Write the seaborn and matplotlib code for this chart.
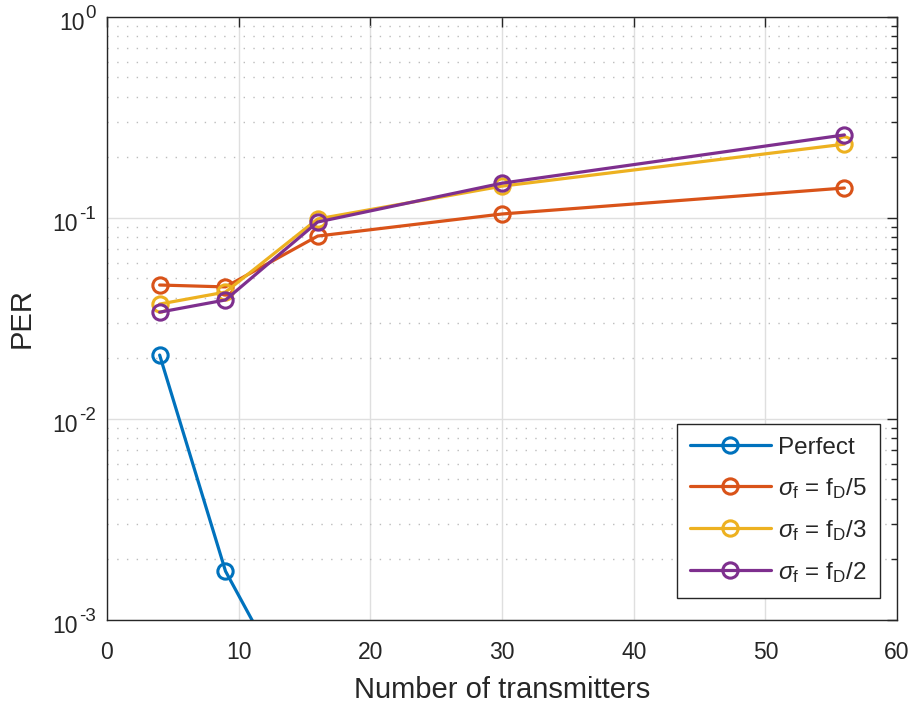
import numpy as np
import pandas as pd
import seaborn as sns
import matplotlib
matplotlib.use("Agg")
import matplotlib.pyplot as plt
import matplotlib.transforms as mtransforms
from matplotlib.ticker import LogLocator, MultipleLocator, NullFormatter

# Packet error rate versus number of transmitters
transmitters = [4, 9, 16, 30, 56]
per_perfect = [0.0208, 0.00175, 0.00025, np.nan, np.nan]
per_fd5 = [0.0464, 0.0454, 0.0813, 0.1047, 0.141]
per_fd3 = [0.0373, 0.0428, 0.0989, 0.144, 0.233]
per_fd2 = [0.0340, 0.0391, 0.0955, 0.149, 0.259]

labels = [
    "Perfect",
    r"$\sigma_\mathrm{f}$ = f$_\mathrm{D}$/5",
    r"$\sigma_\mathrm{f}$ = f$_\mathrm{D}$/3",
    r"$\sigma_\mathrm{f}$ = f$_\mathrm{D}$/2",
]
series = [per_perfect, per_fd5, per_fd3, per_fd2]
colors = ["#0072BD", "#D95319", "#EDB120", "#7E2F8E"]
decades = [-3, -2, -1, 0]

sns.set_theme(style="white")
plt.rcParams["font.family"] = ["Liberation Sans", "DejaVu Sans"]
plt.rcParams["mathtext.fontset"] = "custom"
plt.rcParams["mathtext.rm"] = "Liberation Sans"
plt.rcParams["mathtext.it"] = "Liberation Sans:italic"
plt.rcParams["mathtext.default"] = "it"

fig = plt.figure(figsize=(9.12, 7.05), dpi=100)
ax = fig.add_axes([0.1173, 0.1206, 0.8663, 0.8553])

for lab, vals, col in zip(labels, series, colors):
    df = pd.DataFrame({"n": transmitters, "per": vals}).dropna()
    sns.lineplot(data=df, x="n", y="per", ax=ax, color=col, label=lab,
                 marker="o", markersize=11, markerfacecolor="none",
                 markeredgecolor=col, markeredgewidth=2.2, linewidth=2.3,
                 sort=False, estimator=None)

ax.set_yscale("log")
ax.set_xlim(0, 60)
ax.set_ylim(1e-3, 1)
ax.xaxis.set_major_locator(MultipleLocator(10))
ax.yaxis.set_major_locator(LogLocator(base=10, numticks=10))
ax.yaxis.set_minor_locator(LogLocator(base=10, subs=np.arange(2, 10), numticks=20))
ax.yaxis.set_minor_formatter(NullFormatter())
ax.yaxis.set_major_formatter(NullFormatter())

# decade labels: exponent right-aligned near the axis, base "10" to its left
ytrans = mtransforms.blended_transform_factory(ax.transAxes, ax.transData)
renderer = fig.canvas.get_renderer()
for k in decades:
    exp_txt = ax.annotate(str(k) if k >= 0 else "-" + str(-k),
                          xy=(0, 10.0 ** k), xycoords=ytrans,
                          xytext=(-11, 3), textcoords="offset pixels",
                          ha="right", va="center", fontsize=13.5,
                          color="#262626")
    w = exp_txt.get_window_extent(renderer).width
    ax.annotate("10", xy=(0, 10.0 ** k), xycoords=ytrans,
                xytext=(-12 - w, -7), textcoords="offset pixels",
                ha="right", va="center", fontsize=16.5, color="#262626")

ax.grid(True, which="major", color="#dfdfdf", linewidth=1.0, linestyle="-")
ax.grid(True, which="minor", axis="y", color="#bcbcbc", linewidth=1.0,
        linestyle=(0, (1, 6)))
ax.set_axisbelow(True)

for sp in ax.spines.values():
    sp.set_visible(True)
    sp.set_color("#262626")
    sp.set_linewidth(1.0)

ax.tick_params(which="both", direction="in", top=True, right=True,
               colors="#262626", labelsize=16.5, width=1.0)
ax.tick_params(which="major", length=7)
ax.tick_params(which="minor", length=4)
ax.tick_params(axis="x", pad=15)

ax.set_xlabel("Number of transmitters", fontsize=21, color="#262626", labelpad=9)
ax.set_ylabel("PER", fontsize=21, color="#262626", labelpad=48)

leg = ax.legend(loc="lower right", bbox_to_anchor=(880 / 912, 107 / 705),
                bbox_transform=fig.transFigure, borderaxespad=0,
                fontsize=17.5, frameon=True, fancybox=False,
                edgecolor="#262626", framealpha=1, handlelength=3.3,
                handletextpad=0.3, borderpad=0.55, labelspacing=0.7)
leg.get_frame().set_linewidth(1.0)

fig.savefig("out.png", dpi=100)
